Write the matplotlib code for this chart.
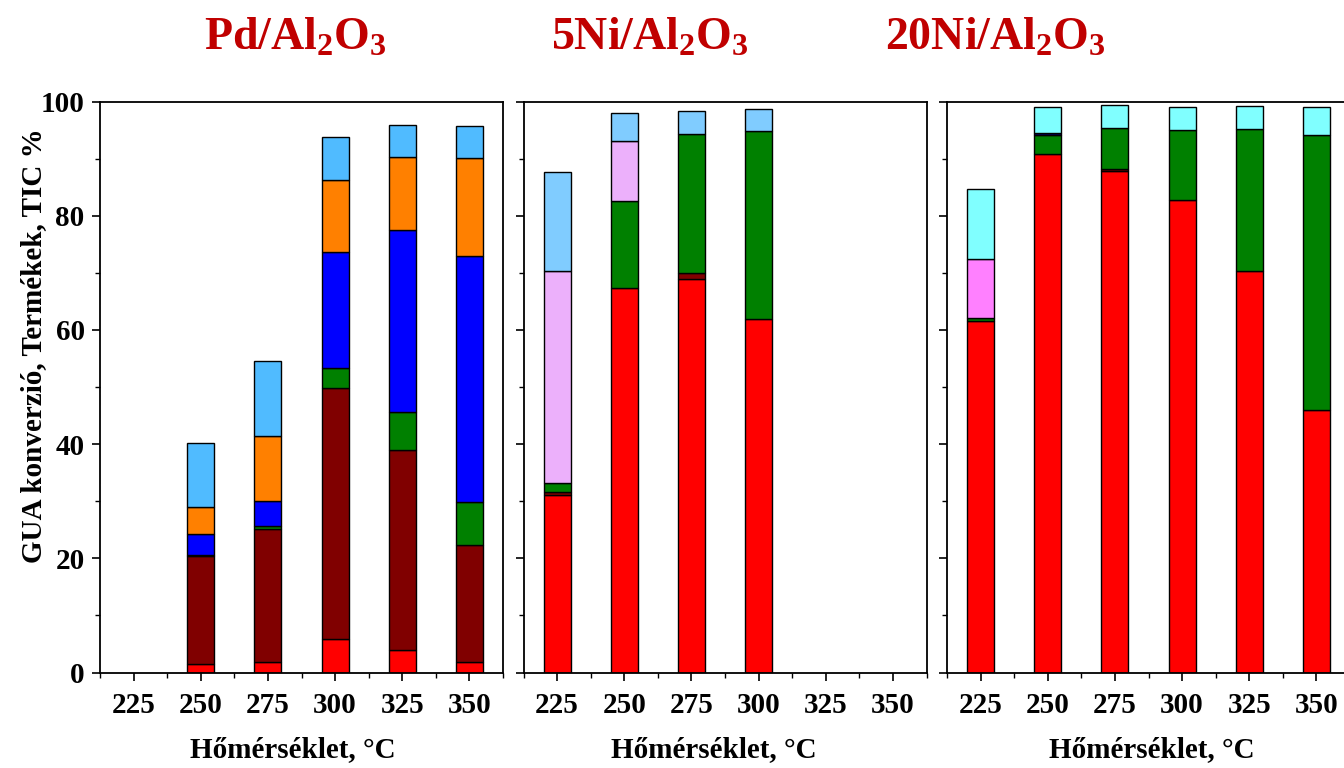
import matplotlib
matplotlib.use("Agg")
import matplotlib.pyplot as plt
from matplotlib.ticker import MultipleLocator

plt.rcParams["font.family"] = ["Liberation Serif", "DejaVu Serif"]
plt.rcParams["font.weight"] = "bold"
plt.rcParams["mathtext.fontset"] = "custom"
plt.rcParams["mathtext.rm"] = "Liberation Serif:bold"
plt.rcParams["mathtext.bf"] = "Liberation Serif:bold"
plt.rcParams["mathtext.it"] = "Liberation Serif:bold:italic"
plt.rcParams["mathtext.default"] = "bf"

# temperatures, °C
temps_pd = [250, 275, 300, 325, 350]
temps_5ni = [225, 250, 275, 300]
temps_20ni = [225, 250, 275, 300, 325, 350]

# Pd/Al2O3 product fractions (stacked from bottom)
pd_red = [1.5, 1.8, 5.9, 4.0, 1.8]
pd_darkred = [18.9, 23.3, 43.9, 35.0, 20.6]
pd_green = [0.2, 0.5, 3.6, 6.6, 7.5]
pd_blue = [3.6, 4.4, 20.2, 31.9, 43.0]
pd_orange = [4.8, 11.4, 12.6, 12.8, 17.2]
pd_lightblue = [11.2, 13.1, 7.6, 5.5, 5.6]

# 5Ni/Al2O3
ni5_red = [31.0, 67.4, 69.0, 61.9]
ni5_darkred = [0.6, 0.0, 1.0, 0.0]
ni5_green = [1.6, 15.2, 24.3, 32.9]
ni5_pink = [37.1, 10.5, 0.0, 0.0]
ni5_lightblue = [17.3, 4.9, 4.0, 3.9]

# 20Ni/Al2O3
ni20_red = [61.5, 90.8, 87.9, 82.8, 70.4, 46.0]
ni20_darkred = [0.0, 0.0, 0.3, 0.0, 0.0, 0.0]
ni20_green = [0.5, 3.4, 7.1, 12.2, 24.8, 48.2]
ni20_blue = [0.0, 0.2, 0.0, 0.0, 0.0, 0.0]
ni20_magenta = [10.4, 0.0, 0.0, 0.0, 0.0, 0.0]
ni20_cyan = [12.2, 4.6, 4.0, 4.0, 4.0, 4.9]

panels = [
    (temps_pd, [(pd_red, "#ff0000"), (pd_darkred, "#800000"), (pd_green, "#008000"),
                (pd_blue, "#0000ff"), (pd_orange, "#ff8000"), (pd_lightblue, "#50bbff")]),
    (temps_5ni, [(ni5_red, "#ff0000"), (ni5_darkred, "#800000"), (ni5_green, "#008000"),
                 (ni5_pink, "#ecb0fb"), (ni5_lightblue, "#80ccff")]),
    (temps_20ni, [(ni20_red, "#ff0000"), (ni20_darkred, "#800000"), (ni20_green, "#008000"),
                  (ni20_blue, "#000080"), (ni20_magenta, "#ff80ff"), (ni20_cyan, "#80ffff")]),
]

titles = [r"Pd/Al$_2$O$_3$", r"5Ni/Al$_2$O$_3$", r"20Ni/Al$_2$O$_3$"]
title_x = [0.2195, 0.4836, 0.741]
xlabel_x = [0.218, 0.531, 0.857]

fig = plt.figure(figsize=(13.44, 7.68), dpi=100)
W, H = 1344, 768
lefts = [100, 523.5, 947]
bottom = (H - 672.5) / H
height = (672.5 - 101.5) / H
width = 403 / W

for i, (temps, series) in enumerate(panels):
    ax = fig.add_axes([lefts[i] / W, bottom, width, height])
    base = [0.0] * len(temps)
    for vals, color in series:
        xs = [t for t, v in zip(temps, vals) if v > 0]
        hs = [v for v in vals if v > 0]
        bs = [b for b, v in zip(base, vals) if v > 0]
        ax.bar(xs, hs, width=10, bottom=bs, color=color,
               edgecolor="black", linewidth=1.0, zorder=2)
        base = [b + v for b, v in zip(base, vals)]

    ax.set_xlim(212.5, 362.5)
    ax.set_ylim(0, 100)
    ax.set_xticks([225, 250, 275, 300, 325, 350])
    ax.xaxis.set_minor_locator(MultipleLocator(12.5))
    ax.yaxis.set_major_locator(MultipleLocator(20))
    ax.yaxis.set_minor_locator(MultipleLocator(10))
    ax.tick_params(which="major", direction="out", length=6, width=1.2,
                   labelsize=21)
    ax.tick_params(axis="x", which="major", pad=8)
    ax.tick_params(axis="y", which="major", pad=5)
    ax.tick_params(which="minor", direction="out", length=3.5, width=1.0)
    ax.tick_params(axis="y", right=False)
    for sp in ax.spines.values():
        sp.set_linewidth(1.3)
    if i > 0:
        ax.tick_params(axis="y", labelleft=False)

    fig.text(title_x[i], 1 - 50 / H, titles[i], color="#c00000",
             fontsize=33, fontweight="bold", ha="center", va="baseline")
    fig.text(xlabel_x[i], 1 - 750 / H, "Hőmérséklet, °C", fontsize=21,
             fontweight="bold", ha="center", va="center")

fig.text(34 / W, 1 - 346 / H, "GUA konverzió, Termékek, TIC %", fontsize=21,
         fontweight="bold", rotation=90, ha="center", va="center")

fig.savefig("out.png", dpi=100)
